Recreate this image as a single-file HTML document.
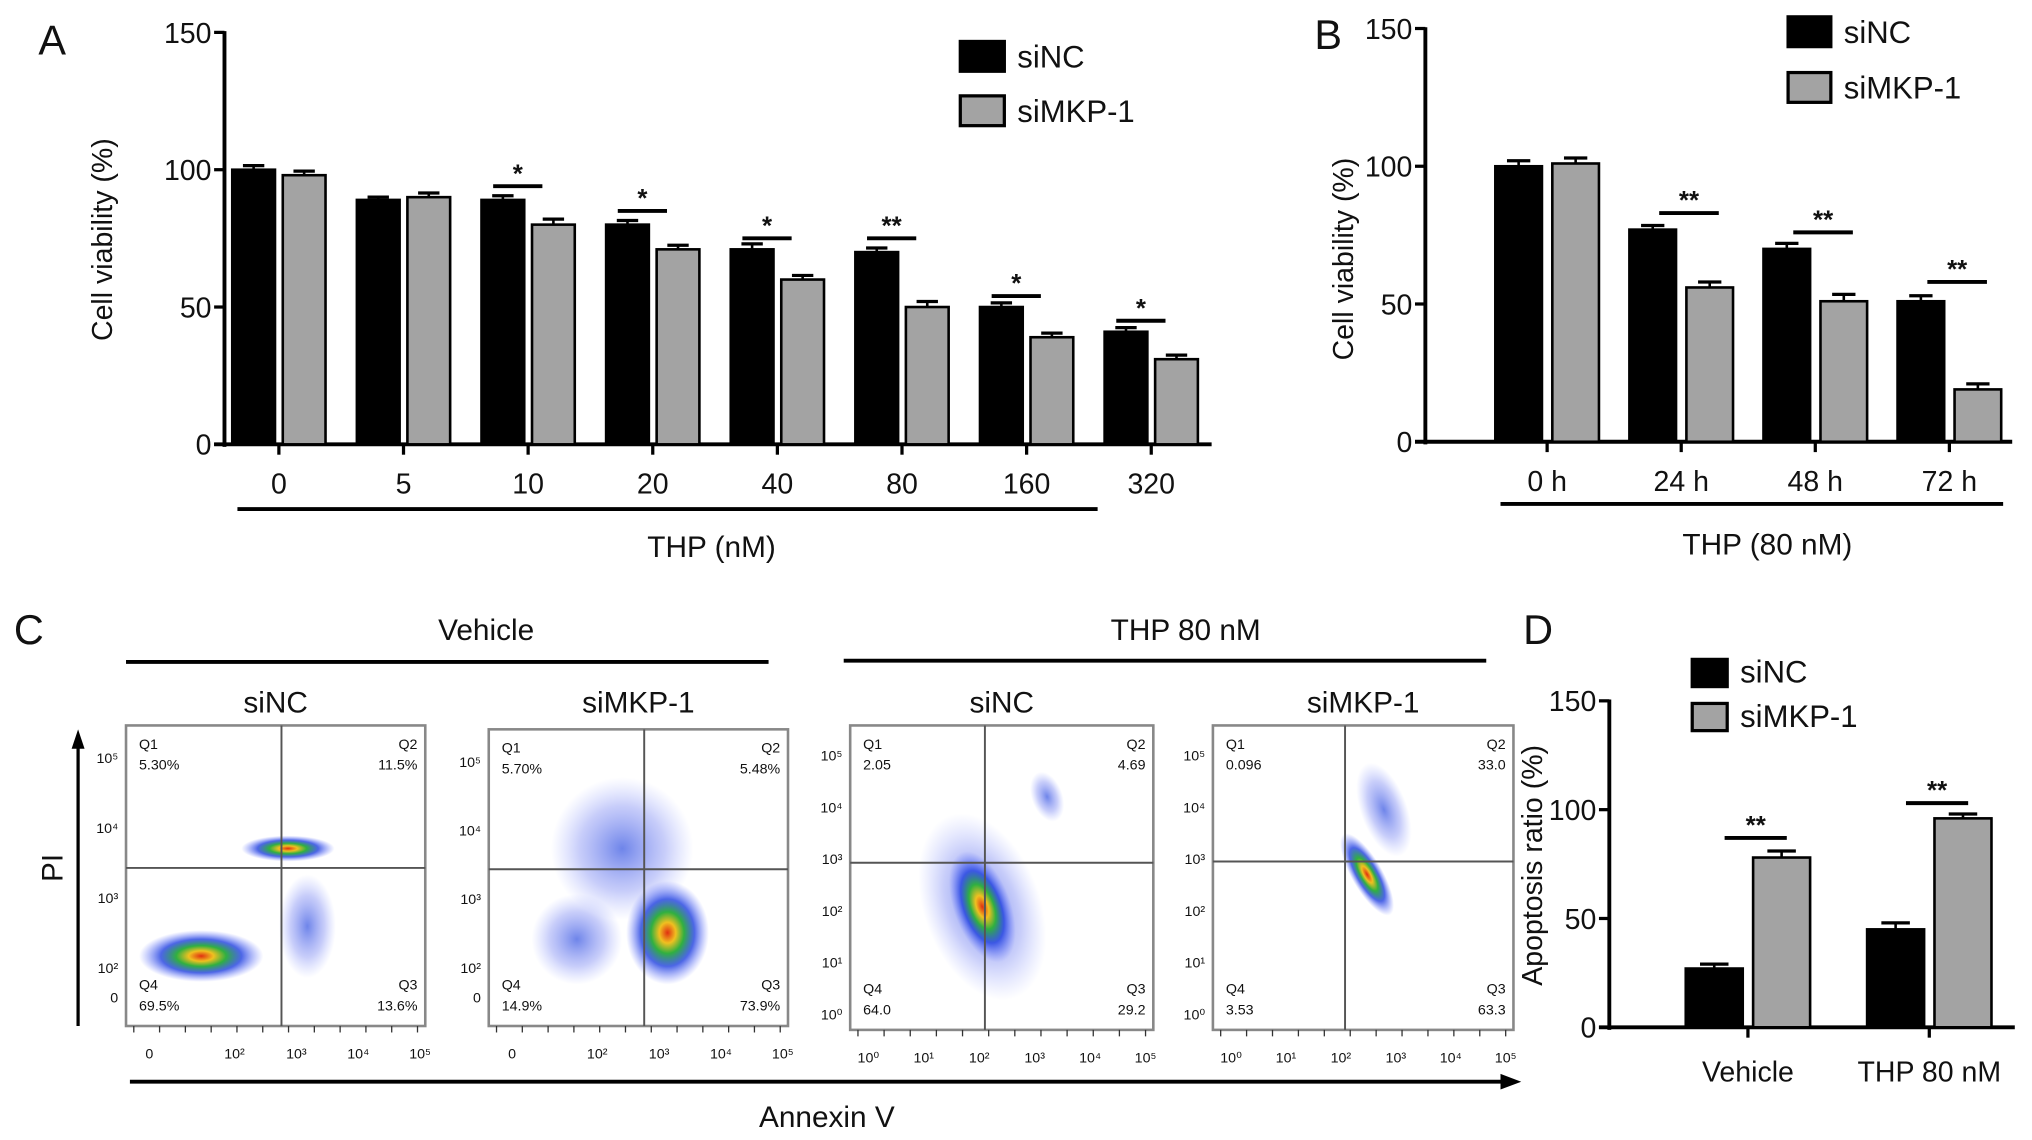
<!DOCTYPE html>
<html><head><meta charset="utf-8">
<style>
html,body{margin:0;padding:0;background:#fff;}
svg{display:block;font-family:"Liberation Sans",Arial,sans-serif;}
</style></head>
<body>
<svg id="fig" width="2032" height="1140" viewBox="0 0 1568 880" xmlns="http://www.w3.org/2000/svg">
<defs>
<radialGradient id="dens" cx="50%" cy="50%" r="50%">
<stop offset="0" stop-color="#e03010"/>
<stop offset="0.2" stop-color="#f0c020"/>
<stop offset="0.4" stop-color="#30b040"/>
<stop offset="0.65" stop-color="#2040e0" stop-opacity="0.8"/>
<stop offset="1" stop-color="#6070ff" stop-opacity="0"/>
</radialGradient>
<radialGradient id="sparse" cx="50%" cy="50%" r="50%">
<stop offset="0" stop-color="#3050e0" stop-opacity="0.7"/>
<stop offset="0.6" stop-color="#6070f0" stop-opacity="0.35"/>
<stop offset="1" stop-color="#8090ff" stop-opacity="0"/>
</radialGradient>
</defs>
</svg>
<script>
// ---- Panel A data ----
const catsA = ["0","5","10","20","40","80","160","320"];
const siNC_A = [100, 89, 89, 80, 71, 70, 50, 41];
const siMKP_A = [98, 90, 80, 71, 60, 50, 39, 31];
const errA1 = [1.5, 1, 1.5, 1.5, 2, 1.5, 1.5, 1.5];
const errA2 = [1.5, 1.5, 2, 1.5, 1.5, 2, 1.5, 1.5];
const sigA_y = [null, null, 94, 85, 75, 75, 54, 45];
const sigA_lab = ["", "", "*", "*", "*", "**", "*", "*"];
const ticksA = [0, 50, 100, 150];
// ---- Panel B data ----
const catsB = ["0 h","24 h","48 h","72 h"];
const siNC_B = [100, 77, 70, 51];
const siMKP_B = [101, 56, 51, 19];
const errB1 = [2, 1.5, 2, 2];
const errB2 = [2, 2, 2.5, 2];
const sigB_y = [null, 83, 76, 58];
const sigB_lab = ["", "**", "**", "**"];
const ticksB = [0, 50, 100, 150];
// ---- Panel D data ----
const catsD = ["Vehicle","THP 80 nM"];
const siNC_D = [27, 45];
const siMKP_D = [78, 96];
const errD1 = [2, 3];
const errD2 = [3, 2];
const sigD_y = [87, 103];
const sigD_lab = ["**", "**"];
const ticksD = [0, 50, 100, 150];
// ---- Panel C quadrant data ----
const flowTitles = ["siNC","siMKP-1","siNC","siMKP-1"];
const flowQ1 = ["5.30%","5.70%","2.05","0.096"];
const flowQ2 = ["11.5%","5.48%","4.69","33.0"];
const flowQ3 = ["13.6%","73.9%","29.2","63.3"];
const flowQ4 = ["69.5%","14.9%","64.0","3.53"];

const svg = document.getElementById('fig');
const NS = "http://www.w3.org/2000/svg";
function mk(tag, attrs, parent) {
  const e = document.createElementNS(NS, tag);
  for (const k in attrs) e.setAttribute(k, attrs[k]);
  (parent || svg).appendChild(e);
  return e;
}
function txt(s, x, y, size, anchor, parent, extra) {
  const t = mk('text', Object.assign({x:x, y:y, 'font-size':size, 'text-anchor':anchor||'middle', fill:'#111'}, extra||{}), parent);
  t.textContent = s;
  return t;
}

function barPanel(cfg) {
  const g = mk('g', {});
  
  
  const yS = v => cfg.y0 - (v / 150) * (cfg.y0 - cfg.y150);
  const xC = i => cfg.x0c + i * cfg.step;
  const ya = mk('line', {x1:cfg.ax, y1:cfg.y150-1, x2:cfg.ax, y2:cfg.y0+2, stroke:'#000','stroke-width':3}, g);
  
  
  const xa = mk('line', {x1:cfg.ax-8, y1:cfg.y0, x2:cfg.axEnd, y2:cfg.y0, stroke:'#000','stroke-width':3}, g);
  
  
  cfg.ticks.forEach(v => {
    mk('line', {x1:cfg.ax-8, y1:yS(v), x2:cfg.ax, y2:yS(v), stroke:'#000','stroke-width':2.5}, g);
    const t = txt(String(v), cfg.ax-10, yS(v)+8, cfg.fs, 'end', g);
    
    
  });
  cfg.cats.forEach((c, i) => {
    const cx = xC(i);
    mk('line', {x1:cx, y1:cfg.y0, x2:cx, y2:cfg.y0+8, stroke:'#000','stroke-width':2.5}, g);
    const t = txt(c, cx, cfg.y0+cfg.labOff, cfg.fs, 'middle', g);
    
    
    [[cfg.s1, cfg.e1, '#000', -1], [cfg.s2, cfg.e2, '#a3a3a3', 1]].forEach(([s, e, col, side], k) => {
      const bx = side < 0 ? cx - cfg.gap/2 - cfg.bw : cx + cfg.gap/2;
      const top = yS(s[i]);
      const r = mk('rect', {x:bx, y:top, width:cfg.bw, height:cfg.y0-top, fill:col, stroke:'#000','stroke-width':2}, g);
      
      
      const ey = yS(s[i] + e[i]);
      mk('line', {x1:bx+cfg.bw/2, y1:top, x2:bx+cfg.bw/2, y2:ey, stroke:'#000','stroke-width':2}, g);
      mk('line', {x1:bx+cfg.bw*0.25, y1:ey, x2:bx+cfg.bw*0.75, y2:ey, stroke:'#000','stroke-width':2.5}, g);
    });
    if (cfg.sigY[i] != null) {
      const sy = yS(cfg.sigY[i]);
      const l = mk('line', {x1:cx-cfg.sigW/2+cfg.sigDx, y1:sy, x2:cx+cfg.sigW/2+cfg.sigDx, y2:sy, stroke:'#000','stroke-width':3}, g);
      
      
      const st = txt(cfg.sigLab[i], cx+cfg.sigDx, sy-3, 20, 'middle', g, {'font-weight':'bold'});
      
      
    }
  });
  const yt = txt(cfg.ytitle, 0, 0, cfg.fs, 'middle', g, {transform:`translate(${cfg.ytX},${cfg.ytY}) rotate(-90)`});
  
  
  [['siNC','#000'],['siMKP-1','#a3a3a3']].forEach(([n, col], k) => {
    const ly = cfg.legY + k*cfg.legDy;
    const r = mk('rect', {x:cfg.legX, y:ly, width:cfg.legW, height:cfg.legH, fill:col, stroke:'#000','stroke-width':2.5}, g);
    
    
    const t = txt(n, cfg.legX+cfg.legW+10, ly+cfg.legH-3, cfg.legFs, 'start', g);
    
    
  });
  return g;
}

barPanel({name:'panel-a-chart', cats:catsA, s1:siNC_A, s2:siMKP_A, e1:errA1, e2:errA2, sigY:sigA_y, sigLab:sigA_lab, ticks:ticksA,
  ax:173, axEnd:935, y0:343, y150:25, x0c:215, step:96.2, bw:33, gap:6, fs:22, labOff:38, sigW:38, sigDx:-8,
  ytitle:'Cell viability (%)', ytX:86, ytY:185, legX:741, legY:32, legDy:42, legW:34, legH:23, legFs:24});
barPanel({name:'panel-b-chart', cats:catsB, s1:siNC_B, s2:siMKP_B, e1:errB1, e2:errB2, sigY:sigB_y, sigLab:sigB_lab, ticks:ticksB,
  ax:1100, axEnd:1553, y0:341, y150:22, x0c:1194, step:103.5, bw:36, gap:8, fs:22, labOff:38, sigW:46, sigDx:6,
  ytitle:'Cell viability (%)', ytX:1044, ytY:200, legX:1380, legY:13, legDy:43, legW:33, legH:23, legFs:24});
barPanel({name:'panel-d-chart', cats:catsD, s1:siNC_D, s2:siMKP_D, e1:errD1, e2:errD2, sigY:sigD_y, sigLab:sigD_lab, ticks:ticksD,
  ax:1242, axEnd:1555, y0:793, y150:541, x0c:1349, step:140, bw:44, gap:8, fs:22, labOff:42, sigW:48, sigDx:6,
  ytitle:'Apoptosis ratio (%)', ytX:1190, ytY:668, legX:1306, legY:509, legDy:34, legW:27, legH:21, legFs:24});

[['A',40,42],['B',1025,38],['C',22,497],['D',1187,497]].forEach(([l,x,y]) => {
  const t = txt(l, x, y, 32, 'middle');
  
  
});
let t;
mk('line',{x1:183,y1:393,x2:847,y2:393,stroke:'#000','stroke-width':3});
t = txt('THP (nM)', 549, 430, 23);  
mk('line',{x1:1158,y1:389,x2:1546,y2:389,stroke:'#000','stroke-width':3});
t = txt('THP (80 nM)', 1364, 428, 23);  

t = txt('Vehicle', 375, 494, 23);  
mk('line',{x1:97,y1:511,x2:593,y2:511,stroke:'#000','stroke-width':3});
t = txt('THP 80 nM', 915, 494, 23);  
mk('line',{x1:651,y1:510,x2:1147,y2:510,stroke:'#000','stroke-width':3});
t = txt('PI', 0, 0, 23, 'middle', svg, {transform:'translate(48,670) rotate(-90)'});  
mk('line',{x1:60,y1:792,x2:60,y2:575,stroke:'#000','stroke-width':2.5});
mk('polygon',{points:'60,563 55,578 65,578',fill:'#000'});
mk('line',{x1:100,y1:835,x2:1160,y2:835,stroke:'#000','stroke-width':3});
mk('polygon',{points:'1174,835 1158,829 1158,841',fill:'#000'});
t = txt('Annexin V', 638, 870, 23);  

const boxes = [
  {x:97, y:560, w:231, h:232, vx:217, hy:670, blobs:[[155,738,48,20,'dens',0],[222,655,36,10,'dens',0],[237,715,22,40,'sparse',0]], xt:['0','10²','10³','10⁴','10⁵'], yt:['0','10²','10³','10⁴','10⁵'], log:false},
  {x:377, y:563, w:231, h:229, vx:497, hy:671, blobs:[[480,655,55,55,'sparse',0],[445,725,35,35,'sparse',0],[515,720,32,40,'dens',0]], xt:['0','10²','10³','10⁴','10⁵'], yt:['0','10²','10³','10⁴','10⁵'], log:false},
  {x:656, y:560, w:234, h:235, vx:760, hy:666, blobs:[[758,700,45,75,'sparse',-20],[758,700,22,45,'dens',-20],[808,615,12,20,'sparse',-20]], xt:['10⁰','10¹','10²','10³','10⁴','10⁵'], yt:['10⁰','10¹','10²','10³','10⁴','10⁵'], log:true},
  {x:936, y:560, w:232, h:235, vx:1038, hy:665, blobs:[[1055,675,12,36,'dens',-30],[1068,625,18,38,'sparse',-20]], xt:['10⁰','10¹','10²','10³','10⁴','10⁵'], yt:['10⁰','10¹','10²','10³','10⁴','10⁵'], log:true}
];
boxes.forEach((b, i) => {
  const g = mk('g', {});
  
  
  const st = txt(flowTitles[i], b.x + b.w/2, 550, 23, 'middle', g);
  
  
  b.blobs.forEach(([cx,cy,rx,ry,f,rot]) => {
    mk('ellipse', {cx:cx, cy:cy, rx:rx, ry:ry, fill:`url(#${f})`, transform:`rotate(${rot} ${cx} ${cy})`}, g);
  });
  mk('rect', {x:b.x, y:b.y, width:b.w, height:b.h, fill:'none', stroke:'#888','stroke-width':2}, g);
  mk('line', {x1:b.vx, y1:b.y, x2:b.vx, y2:b.y+b.h, stroke:'#555','stroke-width':1.5}, g);
  mk('line', {x1:b.x, y1:b.hy, x2:b.x+b.w, y2:b.hy, stroke:'#555','stroke-width':1.5}, g);
  const q = [['Q1',flowQ1[i],b.x+10,b.y+18,'start'],['Q2',flowQ2[i],b.x+b.w-6,b.y+18,'end'],['Q4',flowQ4[i],b.x+10,b.y+b.h-28,'start'],['Q3',flowQ3[i],b.x+b.w-6,b.y+b.h-28,'end']];
  q.forEach(([n,v,x,y,a]) => {
    const t1 = txt(n, x, y, 11, a, g);  
    const t2 = txt(v, x, y+16, 11, a, g);  
  });
  const nx = b.xt.length;
  b.xt.forEach((s, k) => {
    const x = b.log ? b.x + 14 + k*(b.w-20)/(nx-1) : b.x + 18 + (k===0?0:(k)*(b.w-40)/(nx-1)+18);
    txt(s, x, b.y+b.h+25, 11, 'middle', g);
  });
  b.yt.forEach((s, k) => {
    const y = b.log ? b.y+b.h-12 - k*(b.h-35)/(b.yt.length-1) : (k===0 ? b.y+b.h-22 : b.y+b.h-45 - (k-1)*(b.h-70)/3);
    txt(s, b.x-6, y+4, 11, 'end', g);
  });
  for (let k = 0; k < 12; k++) {
    mk('line', {x1:b.x+6+k*(b.w-12)/11, y1:b.y+b.h, x2:b.x+6+k*(b.w-12)/11, y2:b.y+b.h+5, stroke:'#333','stroke-width':1}, g);
  }
});
</script>
</body></html>
